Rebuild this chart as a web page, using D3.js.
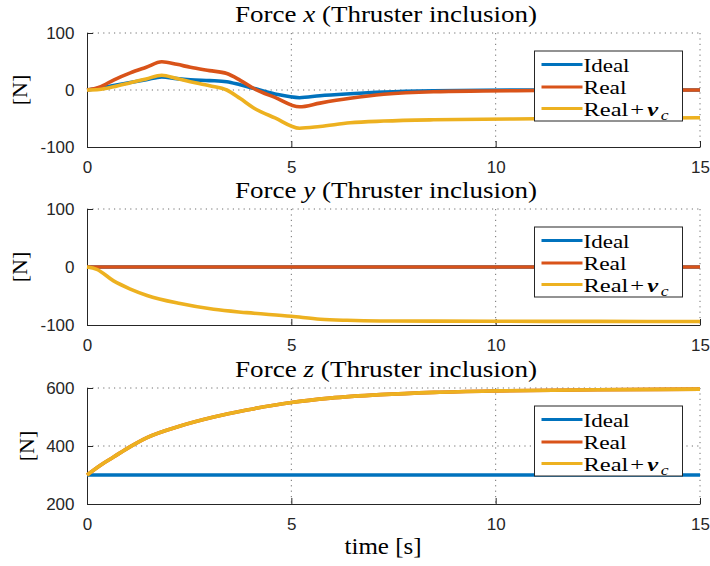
<!DOCTYPE html>
<html>
<head>
<meta charset="utf-8">
<script src="https://cdn.jsdelivr.net/npm/d3@7"></script>
<style>
  html, body { margin: 0; padding: 0; background: #fff; }
  svg { display: block; }
</style>
</head>
<body>
<svg id="chart" width="710" height="566"></svg>
<script>
// ---- data -------------------------------------------------------------
const seriesNames = ["Ideal", "Real", "Real+ν_c"];
const xTicks = [0, 5, 10, 15];

// Force x
const tFx      = [0, 0.3, 0.65, 1.06, 1.45, 1.83, 2.2, 2.53, 3.0, 3.42, 3.75, 4.07, 4.6, 5.2, 5.7, 6.44, 7.26, 8.48, 9.7, 11, 12.5, 15];
const fxIdeal  = [0, 3, 8, 13, 18, 23, 20, 18, 16.5, 14.6, 9, 3, -7, -13.5, -10, -6.5, -3.5, -1.2, -0.4, -0.1, 0, 0];
const fxReal   = [0, 5, 17.5, 30, 40, 49.5, 45, 39.8, 34, 29, 17, 3, -13, -29.5, -23, -14.6, -7.6, -3, -1.8, -1, -0.5, 0];
const fxRealNu = [0, 0.8, 5.5, 12.8, 19.5, 26, 20, 14.6, 7.5, 0, -15, -31, -49, -67, -64, -57.5, -54.5, -52.3, -51.3, -50.4, -49.6, -48.6];
const fxTicks  = [-100, 0, 100];

// Force y
const tFy      = [0, 0.24, 0.65, 1.06, 1.47, 2.28, 3.1, 3.91, 5.0, 5.71, 6.36, 7.18, 8.5, 10, 12.5, 15];
const fyIdeal  = [0, 0, 0, 0, 0, 0, 0, 0, 0, 0, 0, 0, 0, 0, 0, 0];
const fyReal   = [0, 0, 0, 0, 0, 0, 0, 0, 0, 0, 0, 0, 0, 0, 0, 0];
const fyRealNu = [0, -4, -24, -38, -49, -63, -73, -78.7, -85, -90, -91.9, -93, -93.3, -93.6, -93.8, -94];
const fyTicks  = [-100, 0, 100];

// Force z
const tFz      = [0, 0.33, 0.65, 1.06, 1.47, 2.28, 3.1, 3.91, 5.0, 5.95, 7.18, 8.5, 10, 12.5, 15];
const fzIdeal  = [300, 300, 300, 300, 300, 300, 300, 300, 300, 300, 300, 300, 300, 300, 300];
const fzReal   = [300, 334, 362, 398, 429, 469, 500, 524, 550, 565, 577, 585, 590, 594, 596];
const fzRealNu = [300, 334, 362, 398, 429, 469, 500, 524, 550, 565, 577, 585, 590, 594, 596];
const fzTicks  = [200, 400, 600];

// ---- layout -----------------------------------------------------------
const colors = ["#0072BD", "#D95319", "#EDB120"];
const ink = "#262626";
const plotLeft = 87, plotRight = 700;
const serif = '"Liberation Serif", "Times New Roman", serif';
const sans = '"Liberation Sans", Arial, sans-serif';
const legendWidths = [46, 43, 85];

const panels = [
  { axis: "x", top: 33,  bottom: 147, t: tFx, ys: [fxIdeal, fxReal, fxRealNu], ticks: fxTicks, labelX: 20 },
  { axis: "y", top: 209, bottom: 325, t: tFy, ys: [fyIdeal, fyReal, fyRealNu], ticks: fyTicks, labelX: 20 },
  { axis: "z", top: 388, bottom: 504, t: tFz, ys: [fzIdeal, fzReal, fzRealNu], ticks: fzTicks, labelX: 27 }
];

const svg = d3.select("#chart");
const x = d3.scaleLinear().domain([0, 15]).range([plotLeft, plotRight]);

panels.forEach((p) => {
  const y = d3.scaleLinear().domain(d3.extent(p.ticks)).range([p.bottom, p.top]);
  const g = svg.append("g");

  // dotted grid
  const grid = g.append("g").attr("stroke", "#6e6e6e").attr("stroke-width", 1)
    .attr("stroke-dasharray", "1.2,4.2").attr("fill", "none");
  xTicks.slice(1).forEach(v => {
    grid.append("line").attr("x1", x(v)).attr("x2", x(v)).attr("y1", p.top).attr("y2", p.bottom);
  });
  p.ticks.slice(1).forEach(v => {
    grid.append("line").attr("x1", plotLeft).attr("x2", plotRight).attr("y1", y(v)).attr("y2", y(v));
  });

  // axes (ticks point inward, plain hyphen for negatives)
  const fmt = d => String(d);
  const xAxis = d3.axisBottom(x).tickValues(xTicks).tickFormat(fmt).tickSizeInner(-6).tickSizeOuter(0).tickPadding(13.5);
  const yAxis = d3.axisLeft(y).tickValues(p.ticks).tickFormat(fmt).tickSizeInner(-6).tickSizeOuter(0).tickPadding(12.5);
  const ax = g.append("g").attr("transform", `translate(0,${p.bottom})`).call(xAxis);
  const ay = g.append("g").attr("transform", `translate(${plotLeft},0)`).call(yAxis);
  [ax, ay].forEach(a => {
    a.select(".domain").attr("stroke", ink).attr("stroke-width", 1);
    a.selectAll(".tick line").attr("stroke", ink);
    a.selectAll(".tick text").attr("fill", ink)
      .style("font-family", sans).style("font-size", "17px");
  });

  // series
  const line = d3.line().curve(d3.curveMonotoneX);
  p.ys.forEach((vals, si) => {
    g.append("path")
      .attr("d", line(p.t.map((t, i) => [x(t), y(vals[i])])))
      .attr("fill", "none")
      .attr("stroke", colors[si])
      .attr("stroke-width", 3.6)
      .attr("stroke-linejoin", "round");
  });

  // title
  const title = g.append("text")
    .attr("x", 386).attr("y", p.top - 11)
    .attr("text-anchor", "middle")
    .style("font-family", serif).style("font-size", "24px").attr("fill", "#000")
    .attr("textLength", 302).attr("lengthAdjust", "spacingAndGlyphs");
  title.append("tspan").text("Force ");
  title.append("tspan").style("font-style", "italic").text(p.axis);
  title.append("tspan").text(" (Thruster inclusion)");

  // y label
  g.append("text")
    .attr("transform", `translate(${p.labelX + 7},${(p.top + p.bottom) / 2}) rotate(-90)`)
    .attr("text-anchor", "middle")
    .style("font-family", serif).style("font-size", "22px").attr("fill", "#000")
    .text("[N]");

  // legend
  const lg = g.append("g").attr("transform", `translate(534.5,${p.top + 18})`);
  lg.append("rect").attr("width", 148).attr("height", 70)
    .attr("fill", "#fff").attr("stroke", ink).attr("stroke-width", 1);
  const rows = [13.5, 36, 57.5];
  seriesNames.forEach((name, si) => {
    lg.append("line").attr("x1", 7).attr("x2", 48).attr("y1", rows[si]).attr("y2", rows[si])
      .attr("stroke", colors[si]).attr("stroke-width", 3);
    const tx = lg.append("text").attr("x", 49).attr("y", rows[si] + 7)
      .style("font-family", serif).style("font-size", "19.5px").attr("fill", "#000")
      .attr("textLength", legendWidths[si]).attr("lengthAdjust", "spacingAndGlyphs");
    if (name.includes("ν")) {
      tx.append("tspan").text("Real");
      tx.append("tspan").attr("dx", 1.5).text("+");
      tx.append("tspan").attr("dx", 2.5).style("font-weight", "bold").style("font-style", "italic").text("ν");
      tx.append("tspan").attr("dx", 2).attr("dy", 4).style("font-style", "italic").style("font-size", "14px").text("c");
    } else {
      tx.text(name);
    }
  });
});

// x label
svg.append("text")
  .attr("x", 383).attr("y", 554)
  .attr("text-anchor", "middle")
  .style("font-family", serif).style("font-size", "24px").attr("fill", "#000")
  .attr("textLength", 77).attr("lengthAdjust", "spacingAndGlyphs")
  .text("time [s]");
</script>
</body>
</html>
